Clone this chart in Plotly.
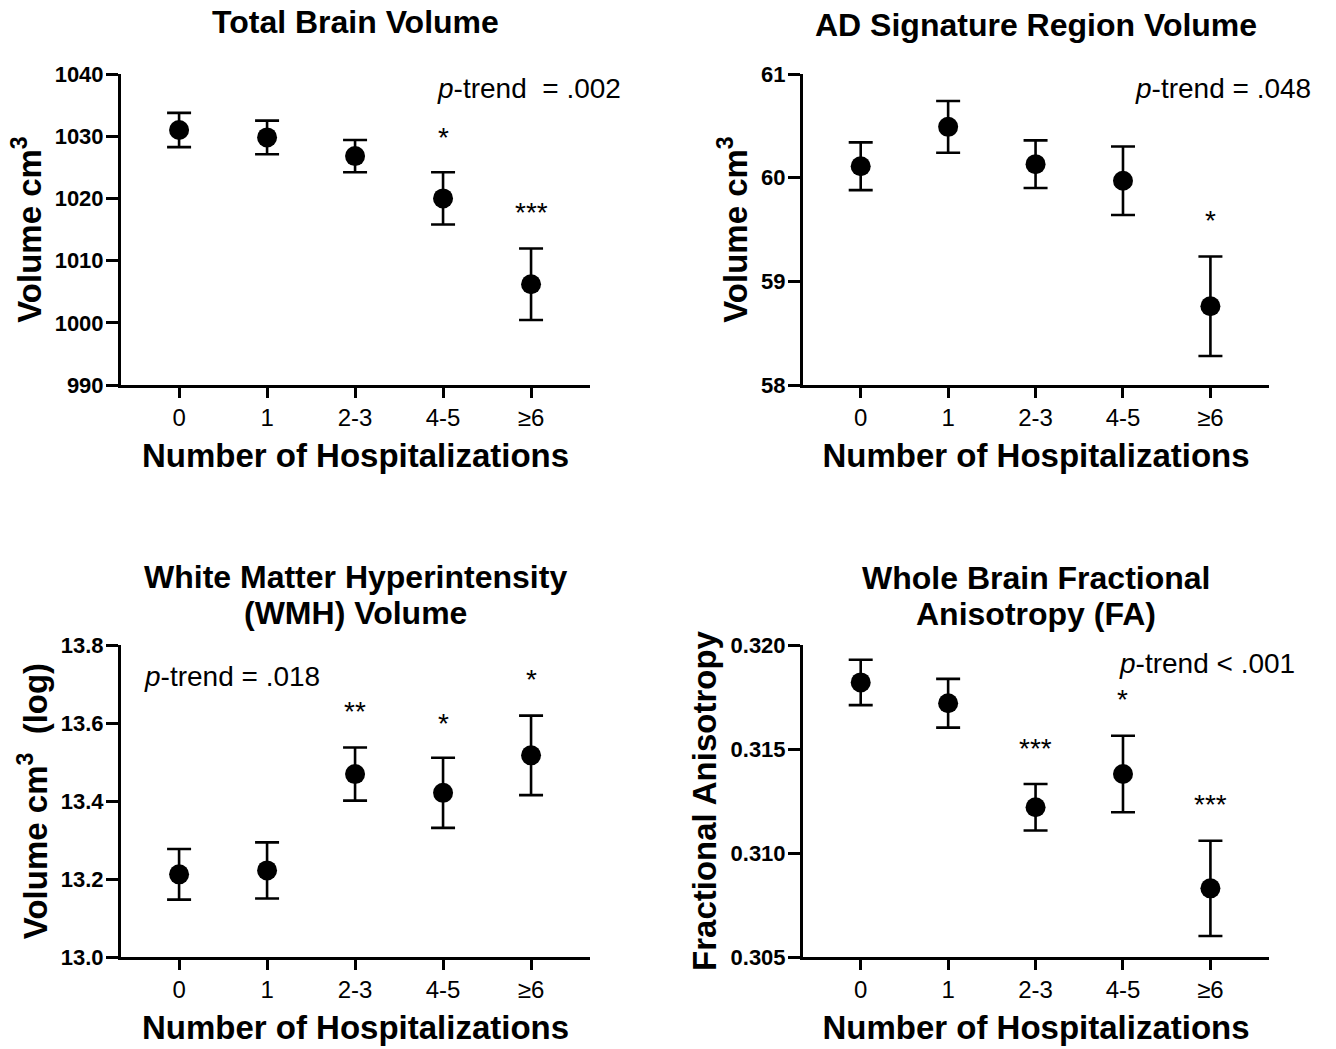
import plotly.graph_objects as go

W, H = 1336, 1049

categories = ["0", "1", "2-3", "4-5", "≥6"]
xpos = [0, 1, 2, 3, 4]

# Panel 1: Total Brain Volume
tbv_mean = [1031.0, 1029.8, 1026.8, 1020.0, 1006.2]
tbv_err = [2.75, 2.7, 2.6, 4.2, 5.75]
tbv_star_lbl = ["", "", "", "*", "***"]
tbv_star_y = [None, None, None, 1030.2, 1018.2]

# Panel 2: AD Signature Region Volume
ad_mean = [60.11, 60.49, 60.13, 59.97, 58.76]
ad_err = [0.23, 0.25, 0.23, 0.33, 0.48]
ad_star_lbl = ["", "", "", "", "*"]
ad_star_y = [None, None, None, None, 59.62]

# Panel 3: WMH Volume (log)
wmh_mean = [13.212, 13.222, 13.469, 13.421, 13.517]
wmh_err = [0.065, 0.072, 0.068, 0.09, 0.102]
wmh_star_lbl = ["", "", "**", "*", "*"]
wmh_star_y = [None, None, 13.637, 13.607, 13.719]

# Panel 4: Whole Brain FA
fa_mean = [0.3182, 0.3172, 0.3122, 0.3138, 0.3083]
fa_err = [0.00109, 0.00117, 0.00112, 0.00184, 0.00229]
fa_star_lbl = ["", "", "***", "*", "***"]
fa_star_y = [None, None, 0.31519, 0.31751, 0.31246]

title_lines = [["Total Brain Volume"], ["AD Signature Region Volume"],
               ["White Matter Hyperintensity", "(WMH) Volume"],
               ["Whole Brain Fractional", "Anisotropy (FA)"]]
ytitles = ["Volume cm<sup>3</sup>", "Volume cm<sup>3</sup>",
           "Volume cm<sup>3</sup>  (log)", "Fractional Anisotropy"]
xtitle = "Number of Hospitalizations"
ptrend = ["<i>p</i>-trend  = .002", "<i>p</i>-trend = .048",
          "<i>p</i>-trend = .018", "<i>p</i>-trend < .001"]
ptrend_pos = [(2.91, 1037.7), (3.12, 60.856), (-0.42, 13.719), (2.93, 0.31912)]

y_ticks = [[990, 1000, 1010, 1020, 1030, 1040], [58, 59, 60, 61],
           [13.0, 13.2, 13.4, 13.6, 13.8], [0.305, 0.310, 0.315, 0.320]]
y_ranges = [[990, 1040], [58, 61], [13.0, 13.8], [0.305, 0.320]]
y_fmt = [None, None, ".1f", ".3f"]

means = [tbv_mean, ad_mean, wmh_mean, fa_mean]
errs = [tbv_err, ad_err, wmh_err, fa_err]
star_lbls = [tbv_star_lbl, ad_star_lbl, wmh_star_lbl, fa_star_lbl]
star_ys = [tbv_star_y, ad_star_y, wmh_star_y, fa_star_y]

# layout geometry (page pixels)
x_dom_px = [(121, 590), (803, 1269), (121, 590), (803, 1269)]
y_dom_px = [(74, 385), (74, 385), (645, 957), (645, 957)]
title_y_px = [[22], [25], [577, 613], [578, 614]]
FONT = "Liberation Sans, Arial, sans-serif"
TICKFONT = "Liberation Sans Narrow, Arial Narrow, Liberation Sans, Arial, sans-serif"


def fx(p):
    return p / W


def fy(p):
    return 1 - p / H


fig = go.Figure()
layout = dict(width=W, height=H,
              margin=dict(l=0, r=0, t=0, b=0, pad=0, autoexpand=False),
              paper_bgcolor="white", plot_bgcolor="white", showlegend=False,
              font=dict(family=FONT, color="black"))
annotations = []

for i in range(4):
    n = "" if i == 0 else str(i + 1)
    xa, ya = "x" + n, "y" + n
    fig.add_trace(go.Scatter(
        x=xpos, y=means[i], mode="markers", xaxis=xa, yaxis=ya,
        marker=dict(size=20, color="black", symbol="circle"),
        error_y=dict(type="data", array=errs[i], visible=True,
                     color="black", thickness=2.6, width=12),
        cliponaxis=False))
    for k in range(5):
        if star_lbls[i][k]:
            annotations.append(dict(x=xpos[k], y=star_ys[i][k], xref=xa, yref=ya,
                                    text=star_lbls[i][k], showarrow=False,
                                    xanchor="center", yanchor="middle", yshift=-3,
                                    font=dict(size=28, family=FONT, color="black")))
    px, py = ptrend_pos[i]
    annotations.append(dict(x=px, y=py, xref=xa, yref=ya, text=ptrend[i],
                            showarrow=False, xanchor="left", yanchor="middle",
                            font=dict(size=28, family=FONT, color="black")))
    x0p, x1p = x_dom_px[i]
    y0p, y1p = y_dom_px[i]
    for line, ty in zip(title_lines[i], title_y_px[i]):
        annotations.append(dict(x=fx((x0p + x1p) / 2), y=fy(ty),
                                xref="paper", yref="paper", text="<b>" + line + "</b>",
                                showarrow=False, xanchor="center", yanchor="middle",
                                font=dict(size=32, family=FONT, color="black")))
    layout["xaxis" + n] = dict(
        domain=[fx(x0p), fx(x1p)], range=[-0.66, 4.67], anchor=ya, automargin=False,
        tickmode="array", tickvals=xpos, ticktext=categories,
        showline=True, linecolor="black", linewidth=3, mirror=False,
        ticks="outside", ticklen=10, tickwidth=3, tickcolor="black",
        showgrid=False, zeroline=False, ticklabelstandoff=-1,
        tickfont=dict(size=24, family=FONT, color="black"),
        title=dict(text="<b>" + xtitle + "</b>", standoff=15,
                   font=dict(size=33, family=FONT, color="black")))
    layout["yaxis" + n] = dict(
        domain=[fy(y1p), fy(y0p)], range=y_ranges[i], anchor=xa, automargin=False,
        tickmode="array", tickvals=y_ticks[i], tickformat=y_fmt[i],
        showline=True, linecolor="black", linewidth=3,
        ticks="outside", ticklen=12, tickwidth=3, tickcolor="black",
        showgrid=False, zeroline=False, ticklabelstandoff=-2,
        tickfont=dict(size=22, family=TICKFONT, color="black", weight="bold"),
        title=dict(text="<b>" + ytitles[i] + "</b>", standoff=4,
                   font=dict(size=33, family=FONT, color="black")))

layout["annotations"] = annotations
fig.update_layout(**layout)
fig.write_html("out.html", config={"displayModeBar": False},
               post_script="document.body.style.margin='0px';document.body.style.padding='0px';")
